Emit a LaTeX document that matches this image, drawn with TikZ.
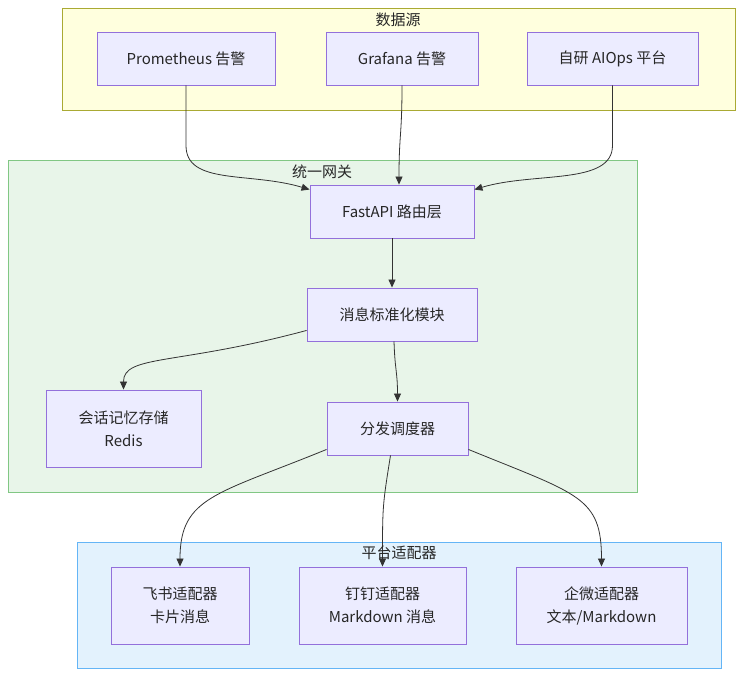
\documentclass[tikz,border=0pt]{standalone}
\usepackage{fontspec}
\setmainfont{Noto Sans CJK SC}
\usetikzlibrary{arrows.meta,calc}
\definecolor{nodefill}{HTML}{ECECFF}
\definecolor{nodeline}{HTML}{9370DB}
\definecolor{srcfill}{HTML}{FFFFDE}
\definecolor{srcline}{HTML}{AAAA33}
\definecolor{gwfill}{HTML}{E8F5E9}
\definecolor{gwline}{HTML}{81C784}
\definecolor{adfill}{HTML}{E3F2FD}
\definecolor{adline}{HTML}{64B5F6}
\definecolor{edgecol}{HTML}{333333}
\begin{document}
\begin{tikzpicture}[x=1pt,y=-1pt,
	box/.style={draw=nodeline,fill=nodefill,line width=0.9,inner sep=0pt,align=center,
		minimum height=53,font=\fontsize{15}{23}\selectfont,text=black!85},
	tall/.style={box,minimum height=77},
	grouptitle/.style={font=\fontsize{15}{18}\selectfont,text=black!85},
	edge/.style={draw=edgecol,line width=0.8,-{Triangle[length=8,width=7]}}]
	\useasboundingbox (0,0) rectangle (750,684);
	% groups
	\draw[fill=srcfill,draw=srcline,line width=0.9] (62,8) rectangle (735,110);
	\draw[fill=gwfill,draw=gwline,line width=0.9] (8,160) rectangle (637,492);
	\draw[fill=adfill,draw=adline,line width=0.9] (77,542) rectangle (721,668);
	\node[grouptitle] (srctitle) at (398,20) {数据源};
	\node[grouptitle] (gwtitle) at (322,172) {统一网关};
	% nodes
	\node[box,minimum width=178] (prom) at (186,58.5) {Prometheus 告警};
	\node[box,minimum width=152] (graf) at (402,58.5) {Grafana 告警};
	\node[box,minimum width=171] (aiops) at (612.5,58.5) {自研 AIOps 平台};
	\node[box,minimum width=164] (api) at (392,211.5) {FastAPI 路由层};
	\node[box,minimum width=170] (norm) at (392,314.5) {消息标准化模块};
	\node[tall,minimum width=155] (redis) at (123.5,428.5) {会话记忆存储\\Redis};
	\node[box,minimum width=141] (disp) at (397.5,428.5) {分发调度器};
	\node[tall,minimum width=138] (feishu) at (180,605.5) {飞书适配器\\卡片消息};
	\node[tall,minimum width=167] (ding) at (382.5,605.5) {钉钉适配器\\Markdown 消息};
	\node[tall,minimum width=171] (wecom) at (601.5,605.5) {企微适配器\\文本/Markdown};
	% edges
	\draw[edge] (prom.south) -- ++(0,60) .. controls +(0,40) and +(-60,-18) .. ($(api.north west)+(0,5)$);
	\draw[edge] (graf.south) .. controls +(0,50) and +(0,-50) .. ($(api.north)+(7,0)$);
	\draw[edge] (aiops.south) -- ++(0,60) .. controls +(0,40) and +(60,-18) .. ($(api.north east)+(0,5)$);
	\draw[edge] (api.south) -- (norm.north);
	\draw[edge] ($(norm.south west)+(0,-11)$) .. controls +(-130,35) and +(0,-35) .. (redis.north);
	\draw[edge] ($(norm.south)+(2,0)$) .. controls +(1,30) and +(0,-30) .. (disp.north);
	\draw[edge] ($(disp.south west)+(0,-6)$) .. controls +(-110,45) and +(0,-70) .. (feishu.north);
	\draw[edge] ($(disp.south)+(-7,0)$) .. controls +(-8,50) and +(0,-60) .. (ding.north);
	\draw[edge] ($(disp.south east)+(0,-6)$) .. controls +(110,45) and +(0,-70) .. (wecom.north);
	\node[grouptitle] (adtitle) at (399,553) {平台适配器};
\end{tikzpicture}
\end{document}
